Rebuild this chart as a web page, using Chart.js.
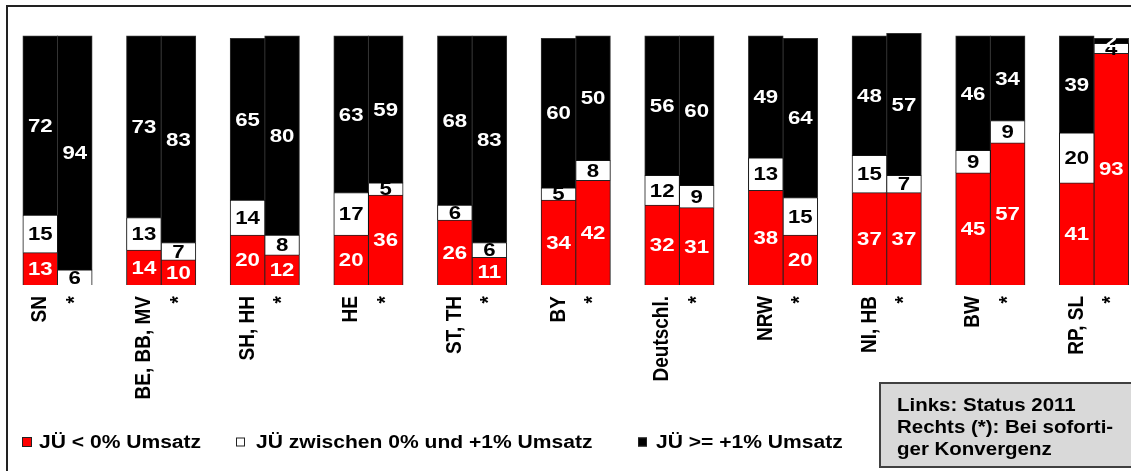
<!DOCTYPE html>
<html><head><meta charset="utf-8">
<script src="https://cdn.jsdelivr.net/npm/chart.js@4/dist/chart.umd.min.js"></script>
<style>html,body{margin:0;padding:0;background:#fff;overflow:hidden}
#wrap{position:relative;width:1131px;height:471px}</style>
</head><body><div id="wrap"><canvas id="c" width="1131" height="471"></canvas></div>
<script>
// ---- data ----
const categories = ['SN','BE, BB, MV','SH, HH','HE','ST, TH','BY','Deutschl.','NRW','NI, HB','BW','RP, SL'];
const rightMarker = '*';
const negLeft  = [13,14,20,20,26,34,32,38,37,45,41];
const midLeft  = [15,13,14,17, 6, 5,12,13,15, 9,20];
const posLeft  = [72,73,65,63,68,60,56,49,48,46,39];
const negRight = [ 0,10,12,36,11,42,31,20,37,57,93];
const midRight = [ 6, 7, 8, 5, 6, 8, 9,15, 7, 9, 4];
const posRight = [94,83,80,59,83,50,60,64,57,34, 2];
const seriesNames = ['JÜ < 0% Umsatz','JÜ zwischen 0% und +1% Umsatz','JÜ >= +1% Umsatz'];
const noteLines = ['Links: Status 2011','Rechts (*): Bei soforti-','ger Konvergenz'];

// ---- styles ----
const RED = '#ff0000', WHITE = '#ffffff', BLACK = '#000000';
const FONT = '"Liberation Sans", Arial, Helvetica, sans-serif';
const SX = 1.17; // horizontal text stretch seen in the reference

function sText(ctx, txt, x, y, size, color, align, baseline, rot) {
  ctx.save();
  ctx.translate(x, y);
  ctx.scale(SX, 1);
  if (rot) ctx.rotate(rot);
  ctx.font = 'bold ' + size + 'px ' + FONT;
  ctx.fillStyle = color;
  ctx.textAlign = align;
  ctx.textBaseline = baseline;
  ctx.fillText(txt, 0, 0);
  ctx.restore();
}

function mk(label, data, bg, border, stack, labelColor, legend) {
  return {label, data, backgroundColor: bg, borderColor: border, borderWidth: 1,
          stack, labelColor, legend, clip: false};
}

const datasets = [
  mk(seriesNames[0], negLeft,  RED,   '#222', 'L', '#fff', true),
  mk(seriesNames[1], midLeft,  WHITE, '#111', 'L', '#000', true),
  mk(seriesNames[2], posLeft,  BLACK, '#333', 'L', '#fff', true),
  mk(seriesNames[0], negRight, RED,   '#222', 'R', '#fff', false),
  mk(seriesNames[1], midRight, WHITE, '#111', 'R', '#000', false),
  mk(seriesNames[2], posRight, BLACK, '#333', 'R', '#fff', false)
];

const valueLabels = {
  id: 'valueLabels',
  afterDatasetsDraw(chart) {
    const ctx = chart.ctx;
    chart.data.datasets.forEach((ds, d) => {
      const meta = chart.getDatasetMeta(d);
      meta.data.forEach((el, i) => {
        const v = ds.data[i];
        if (!v) return;
        const p = el.getProps(['x', 'y', 'base'], true);
        sText(ctx, String(v), p.x, (p.y + p.base) / 2 + 1, 19, ds.labelColor, 'center', 'middle');
      });
    });
  }
};

const decorations = {
  id: 'decorations',
  afterDraw(chart) {
    const ctx = chart.ctx;
    // frame
    ctx.save();
    ctx.strokeStyle = '#222'; ctx.lineWidth = 2;
    ctx.beginPath(); ctx.moveTo(7, 471); ctx.lineTo(7, 6); ctx.lineTo(1131, 6); ctx.stroke();
    ctx.restore();
    // axis labels
    const meta0 = chart.getDatasetMeta(0), meta3 = chart.getDatasetMeta(3);
    categories.forEach((c, i) => {
      const xl = meta0.data[i].x, xr = meta3.data[i].x;
      sText(ctx, c, xl, 296, 19, '#000', 'right', 'middle', -Math.PI / 2);
      sText(ctx, rightMarker, xr, 296, 19, '#000', 'right', 'middle', -Math.PI / 2);
    });
    // legend
    const legendX = [[22, 10, 39], [236, 9, 256], [638, 9, 656]];
    const legendDs = chart.data.datasets.filter(d => d.legend);
    legendDs.forEach((ds, k) => {
      const [bx, bs, tx] = legendX[k];
      ctx.save();
      ctx.fillStyle = ds.backgroundColor;
      ctx.fillRect(bx, 442 - bs / 2, bs, bs);
      ctx.strokeStyle = '#222'; ctx.lineWidth = 1;
      ctx.strokeRect(bx + 0.5, 442 - bs / 2 + 0.5, bs - 1, bs - 1);
      ctx.restore();
      sText(ctx, ds.label, tx, 443, 18, '#000', 'left', 'middle');
    });
    // note box
    ctx.save();
    ctx.fillStyle = '#d9d9d9';
    ctx.fillRect(879, 382, 260, 86);
    ctx.strokeStyle = '#404040'; ctx.lineWidth = 2;
    ctx.strokeRect(880, 383, 260, 84);
    ctx.restore();
    const base = [411, 433, 455];
    noteLines.forEach((t, k) => sText(ctx, t, 897, base[k], 17.5, '#000', 'left', 'alphabetic'));
  }
};

new Chart(document.getElementById('c'), {
  type: 'bar',
  data: { labels: categories, datasets },
  options: {
    responsive: false,
    animation: false,
    layout: { padding: { left: 57.5, right: 37, top: 36, bottom: 186 } },
    plugins: { legend: { display: false }, tooltip: { enabled: false } },
    datasets: { bar: { categoryPercentage: 0.666, barPercentage: 1.0, inflateAmount: 0.5 } },
    scales: {
      x: { type: 'category', display: false, offset: false, stacked: true, grid: { display: false } },
      y: { display: false, stacked: true, min: 0, max: 100 }
    }
  },
  plugins: [valueLabels, decorations]
});
</script></body></html>
